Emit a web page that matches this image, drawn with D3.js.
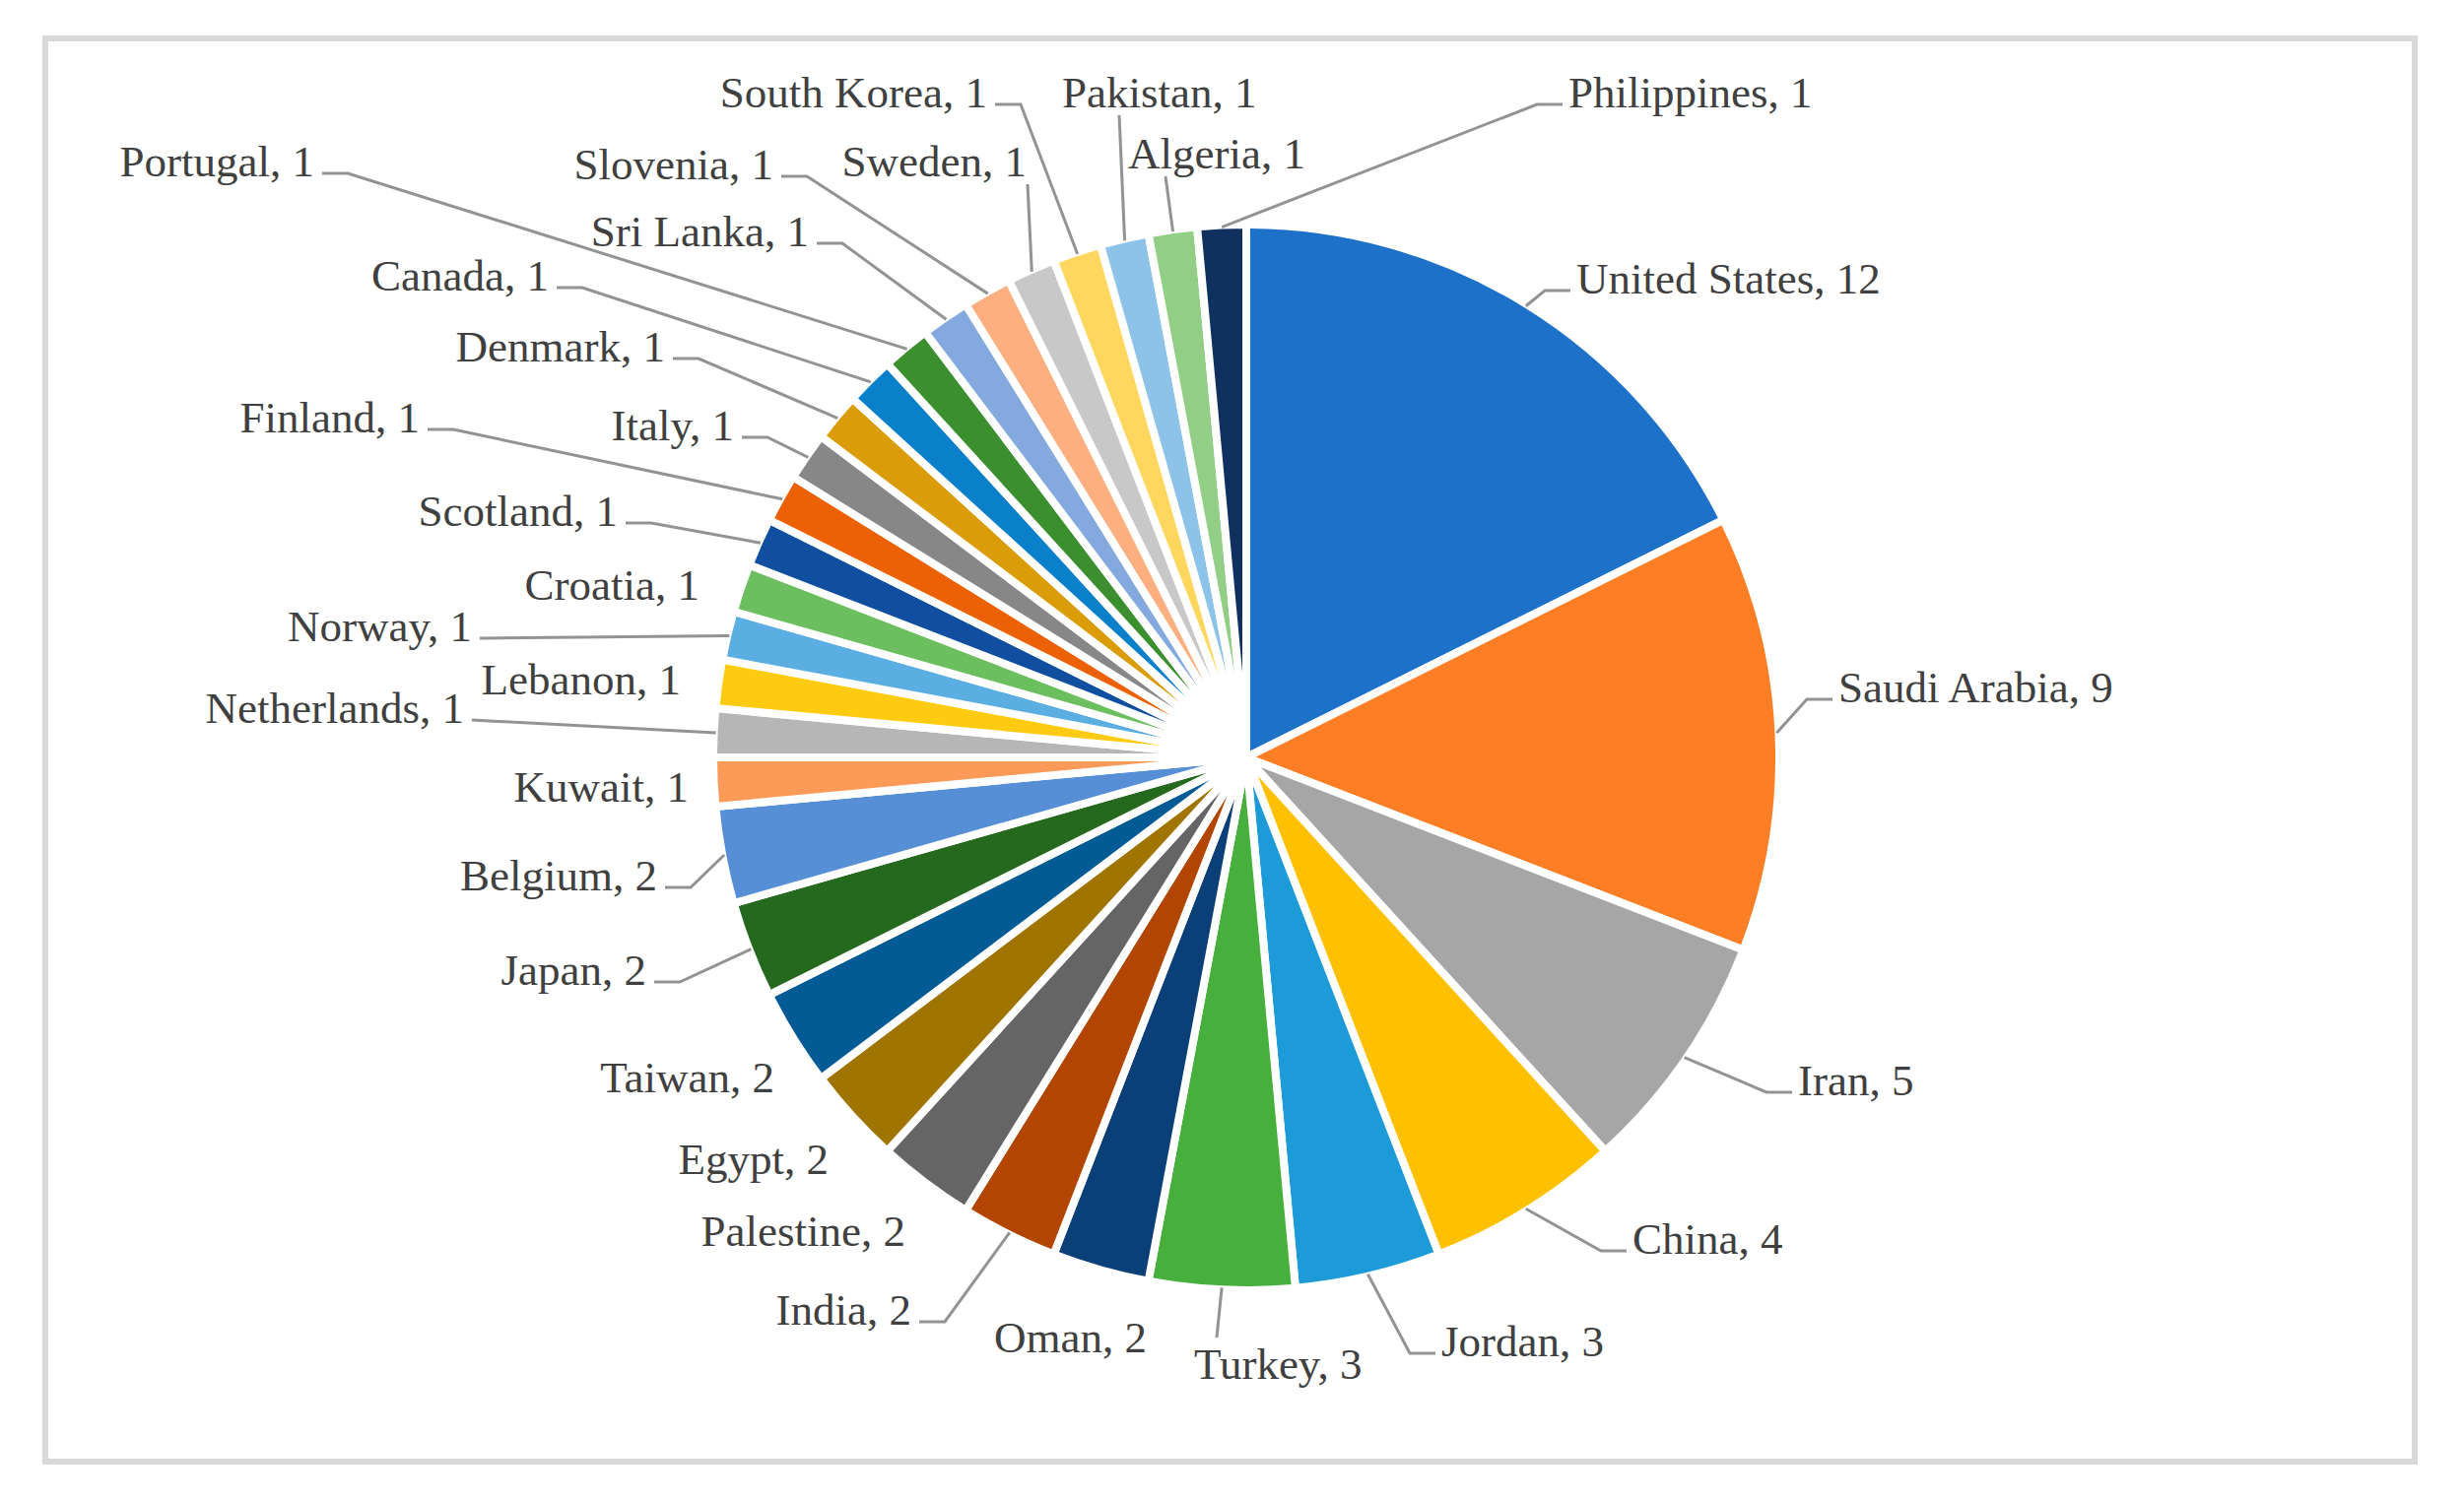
<!DOCTYPE html>
<html>
<head>
<meta charset="utf-8">
<script src="https://cdn.jsdelivr.net/npm/d3@7"></script>
<style>
  html, body { margin: 0; padding: 0; background: #ffffff; }
  svg { display: block; }
</style>
</head>
<body>
<svg id="chart" width="2501" height="1525"></svg>
<script>
// ---- data ----
const countries = [
  "United States", "Saudi Arabia", "Iran", "China", "Jordan", "Turkey",
  "Oman", "India", "Palestine", "Egypt", "Taiwan", "Japan", "Belgium",
  "Kuwait", "Netherlands", "Lebanon", "Norway", "Croatia", "Scotland",
  "Finland", "Italy", "Denmark", "Canada", "Portugal", "Sri Lanka",
  "Slovenia", "Sweden", "South Korea", "Pakistan", "Algeria", "Philippines"
];
const counts = [12, 9, 5, 4, 3, 3, 2, 2, 2, 2, 2, 2, 2,
                1, 1, 1, 1, 1, 1, 1, 1, 1, 1, 1, 1, 1, 1, 1, 1, 1, 1];

// ---- styles ----
const sliceColors = [
  "#1D71C9", "#FD7E24", "#A6A6A6", "#FFC000", "#1D9BD8", "#47B03C",
  "#0B3F78", "#B24500", "#656565", "#9F7400", "#035B95", "#25691E", "#578FD6",
  "#FE9A58", "#B6B6B6", "#FFCB10", "#5BAEE2", "#6BBF5F", "#104FA0",
  "#EC6104", "#878787", "#DA9C08", "#0B80CA", "#3B8F2F", "#84A9DE",
  "#FDAF7F", "#C8C8C8", "#FFD65E", "#8DC3E9", "#93CE87", "#10305F"
];

// ---- label layout (page pixels), same order as countries ----
const labelLayout = [
  {x: 1600, y: 282,  anchor: "start", leader: "elbow"},
  {x: 1866, y: 697,  anchor: "start", leader: "elbow"},
  {x: 1825, y: 1096, anchor: "start", leader: "elbow"},
  {x: 1657, y: 1257, anchor: "start", leader: "elbow"},
  {x: 1463, y: 1361, anchor: "start", leader: "elbow"},
  {x: 1212, y: 1384, anchor: "start", leader: "vert", vx: 1235},
  {x: 1164, y: 1357, anchor: "end",   leader: "none"},
  {x: 925,  y: 1329, anchor: "end",   leader: "elbow"},
  {x: 919,  y: 1249, anchor: "end",   leader: "none"},
  {x: 841,  y: 1176, anchor: "end",   leader: "none"},
  {x: 786,  y: 1093, anchor: "end",   leader: "none"},
  {x: 656,  y: 984,  anchor: "end",   leader: "elbow"},
  {x: 667,  y: 888,  anchor: "end",   leader: "elbow"},
  {x: 699,  y: 798,  anchor: "end",   leader: "none"},
  {x: 471,  y: 718,  anchor: "end",   leader: "straight"},
  {x: 691,  y: 689,  anchor: "end",   leader: "none"},
  {x: 479,  y: 635,  anchor: "end",   leader: "straight"},
  {x: 710,  y: 593,  anchor: "end",   leader: "none"},
  {x: 627,  y: 518,  anchor: "end",   leader: "elbow"},
  {x: 426,  y: 423,  anchor: "end",   leader: "elbow"},
  {x: 745,  y: 431,  anchor: "end",   leader: "elbow"},
  {x: 675,  y: 351,  anchor: "end",   leader: "elbow"},
  {x: 557,  y: 279,  anchor: "end",   leader: "elbow"},
  {x: 319,  y: 163,  anchor: "end",   leader: "elbow"},
  {x: 821,  y: 234,  anchor: "end",   leader: "elbow"},
  {x: 785,  y: 166,  anchor: "end",   leader: "elbow"},
  {x: 1042, y: 163,  anchor: "end",   leader: "vert", vx: 1043},
  {x: 1002, y: 93,   anchor: "end",   leader: "elbow"},
  {x: 1078, y: 93,   anchor: "start", leader: "vert", vx: 1136},
  {x: 1145, y: 155,  anchor: "start", leader: "vert", vx: 1183},
  {x: 1592, y: 93,   anchor: "start", leader: "elbow"}
];

const cx = 1265, cy = 769, R = 541;
const fontSize = 45;

const svg = d3.select("#chart");

// frame
svg.append("rect")
  .attr("x", 46).attr("y", 39)
  .attr("width", 2405).attr("height", 1445)
  .attr("fill", "#ffffff")
  .attr("stroke", "#d9d9d9")
  .attr("stroke-width", 6);

const records = countries.map((c, i) => ({country: c, value: counts[i], idx: i}));

const pie = d3.pie().sort(null).value(d => d.value).startAngle(0).endAngle(2 * Math.PI);
const arcs = pie(records);
const arc = d3.arc().innerRadius(0).outerRadius(R);
const color = d3.scaleOrdinal().domain(countries).range(sliceColors);

const g = svg.append("g").attr("transform", `translate(${cx},${cy})`);

g.selectAll("path.slice")
  .data(arcs)
  .join("path")
  .attr("class", "slice")
  .attr("d", arc)
  .attr("fill", d => color(d.data.country))
  .attr("stroke", "#ffffff")
  .attr("stroke-width", 8)
  .attr("stroke-linejoin", "round");

// leader lines
function edgePoint(d) {
  const a = (d.startAngle + d.endAngle) / 2;
  const r = R - 2;
  return [cx + r * Math.sin(a), cy - r * Math.cos(a)];
}

const leaderG = svg.append("g");
arcs.forEach((d, i) => {
  const L = labelLayout[i];
  const p = edgePoint(d);
  let pts = null;
  if (L.leader === "elbow") {
    const by = L.y + 13;
    if (L.anchor === "end") {
      pts = [[L.x + 8, by], [L.x + 34, by], p];
    } else {
      pts = [[L.x - 6, by], [L.x - 32, by], p];
    }
  } else if (L.leader === "straight") {
    pts = [[L.x + 8, L.y + 13], p];
  } else if (L.leader === "vert") {
    const fromY = p[1] > L.y ? L.y + 24 : L.y - 26;
    pts = [[L.vx, fromY], p];
  }
  if (pts) {
    leaderG.append("path")
      .attr("d", d3.line()(pts))
      .attr("fill", "none")
      .attr("stroke", "#939393")
      .attr("stroke-width", 3);
  }
});

// labels
svg.append("g").selectAll("text")
  .data(arcs)
  .join("text")
  .attr("x", (d, i) => labelLayout[i].x)
  .attr("y", (d, i) => labelLayout[i].y)
  .attr("dy", "0.35em")
  .attr("text-anchor", (d, i) => labelLayout[i].anchor)
  .attr("font-family", "'Liberation Serif', 'DejaVu Serif', serif")
  .attr("font-size", fontSize)
  .attr("fill", "#404040")
  .text(d => `${d.data.country}, ${d.data.value}`);
</script>
</body>
</html>
